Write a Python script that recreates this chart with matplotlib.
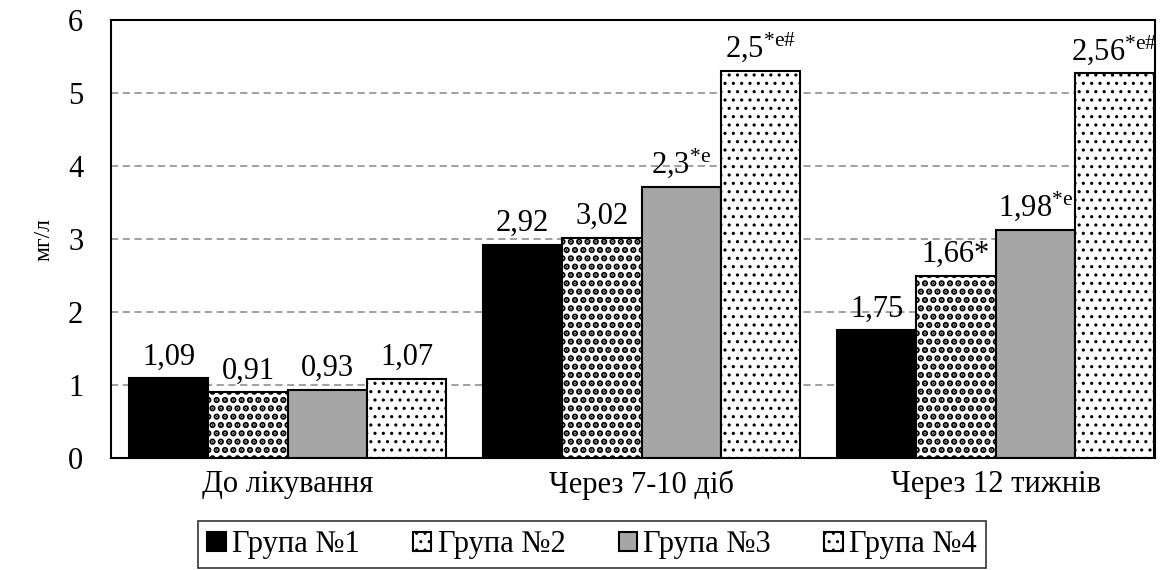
import numpy as np
import matplotlib
matplotlib.use('Agg')
import matplotlib.pyplot as plt

plt.rcParams['font.family'] = ['Liberation Serif', 'DejaVu Serif']
plt.rcParams['mathtext.fontset'] = 'custom'
plt.rcParams['mathtext.rm'] = 'Liberation Serif'
plt.rcParams['mathtext.it'] = 'Liberation Serif'

categories = ['До лікування', 'Через 7-10 діб', 'Через 12 тижнів']
groups = ['Група №1', 'Група №2', 'Група №3', 'Група №4']

# висота стовпців (як на рисунку)
g1 = [1.09, 2.92, 1.75]
g2 = [0.90, 3.02, 2.50]
g3 = [0.93, 3.71, 3.12]
g4 = [1.08, 5.31, 5.27]

# підписи над стовпцями
lab1 = ['1,09', '2,92', '1,75']
lab2 = ['0,91', '3,02', '1,66*']
lab3 = ['0,93', r'2,3$^{*\mathrm{e}}$', r'1,98$^{*\mathrm{e}}$']
lab4 = ['1,07', r'2,5$^{*\mathrm{e\#}}$', r'2,56$^{*\mathrm{e\#}}$']

heights = [g1, g2, g3, g4]
labels = [lab1, lab2, lab3, lab4]
colors = ['black', 'white', '#a6a6a6', 'white']
hatches = [None, '..', None, '..']
hatch_lw = [1.0, 3.2, 1.0, 1.1]

fig = plt.figure(figsize=(11.64, 5.70), dpi=100)
ax = fig.add_axes([0.0954, 0.1965, 0.897, 0.768])

x = np.arange(len(categories))
w = 0.224
for i in range(4):
    pos = x + (i - 1.5) * w
    with plt.rc_context({'hatch.linewidth': hatch_lw[i]}):
        bars = ax.bar(pos, heights[i], w, color=colors[i], edgecolor='black',
                      linewidth=1.5, hatch=hatches[i], label=groups[i], zorder=3)
    for b, t in zip(bars, labels[i]):
        ax.annotate(t, (b.get_x() + b.get_width() / 2, b.get_height()),
                    xytext=(0, 5), textcoords='offset points',
                    ha='center', va='bottom', fontsize=22)

ax.set_ylim(0, 6)
ax.set_xlim(-0.499, 2.451)
ax.set_yticks(range(7))
ax.set_xticks(x)
ax.set_xticklabels(categories)
ax.tick_params(axis='y', length=0, labelsize=22, pad=20)
ax.tick_params(axis='x', length=0, labelsize=22, pad=9)
ax.yaxis.grid(True, linestyle=(0, (4, 2.5)), color='#999999', linewidth=1.3, zorder=0)
for s in ax.spines.values():
    s.set_linewidth(1.5)
ax.set_ylabel('мг/л', fontsize=17, labelpad=10)

leg = fig.legend(loc='upper center', bbox_to_anchor=(0.5086, 0.086), ncol=4,
                 fontsize=22, frameon=True, fancybox=False, edgecolor='black',
                 handlelength=0.6, handleheight=0.6, handletextpad=0.2,
                 columnspacing=1.75, borderpad=0.3, borderaxespad=0)
leg.get_frame().set_linewidth(1.2)

plt.savefig('out.png', dpi=100)
